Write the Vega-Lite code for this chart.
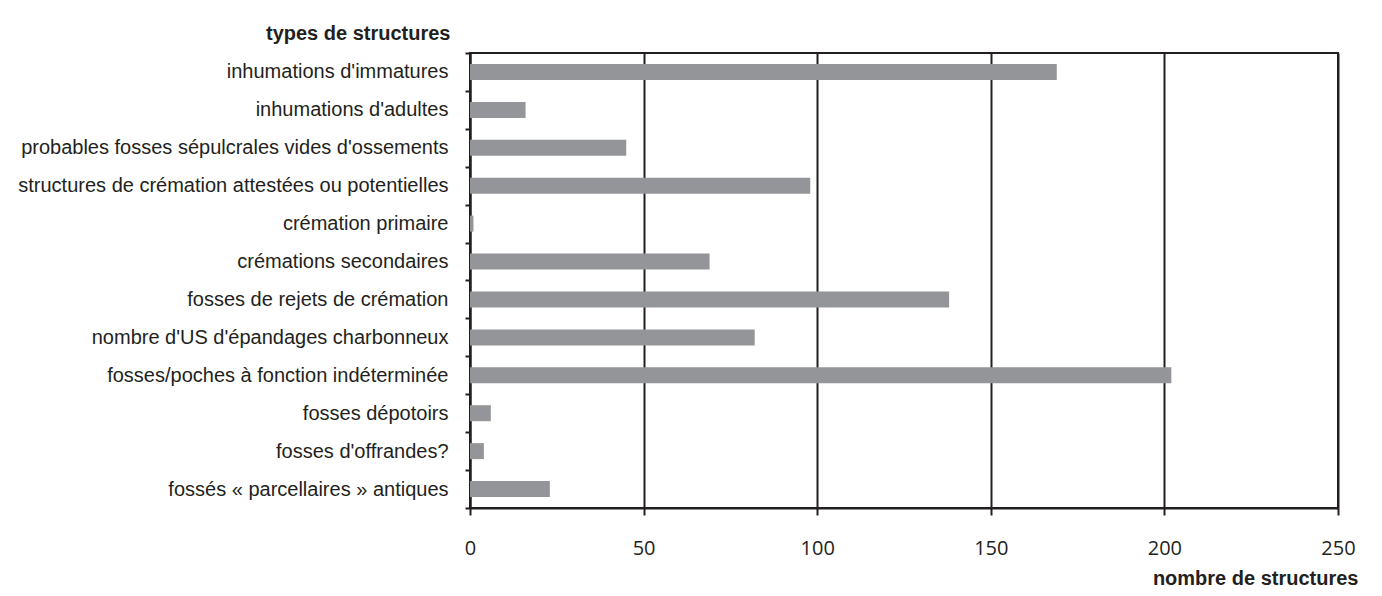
{
  "$schema": "https://vega.github.io/schema/vega-lite/v6.json",
  "autosize": {"type": "none"},
  "padding": {"left": 470, "top": 53, "right": 44, "bottom": 88},
  "width": 868,
  "height": 455,
  "background": "white",
  "data": {
    "values": [
      {"type": "inhumations d'immatures", "n": 169},
      {"type": "inhumations d'adultes", "n": 16},
      {"type": "probables fosses sépulcrales vides d'ossements", "n": 45},
      {"type": "structures de crémation attestées ou potentielles", "n": 98},
      {"type": "crémation primaire", "n": 1},
      {"type": "crémations secondaires", "n": 69},
      {"type": "fosses de rejets de crémation", "n": 138},
      {"type": "nombre d'US d'épandages charbonneux", "n": 82},
      {"type": "fosses/poches à fonction indéterminée", "n": 202},
      {"type": "fosses dépotoirs", "n": 6},
      {"type": "fosses d'offrandes?", "n": 4},
      {"type": "fossés « parcellaires » antiques", "n": 23}
    ]
  },
  "mark": {"type": "bar", "color": "#939598", "size": 16},
  "encoding": {
    "y": {
      "field": "type",
      "type": "nominal",
      "sort": null,
      "scale": {"paddingInner": 0, "paddingOuter": 0},
      "axis": {
        "title": "types de structures",
        "titleAngle": 0,
        "titleAlign": "right",
        "titleBaseline": "middle",
        "titleX": -20,
        "titleY": -20,
        "titleFont": "Liberation Sans",
        "titleFontSize": 20,
        "titleFontWeight": "bold",
        "titleColor": "#231f20",
        "labelFont": "Liberation Sans",
        "labelFontSize": 20,
        "labelColor": "#231f20",
        "labelPadding": 17,
        "labelLimit": 500,
        "tickBand": "extent",
        "tickSize": 5,
        "tickWidth": 2,
        "tickColor": "#231f20",
        "domainColor": "#231f20",
        "domainWidth": 2,
        "grid": false
      }
    },
    "x": {
      "field": "n",
      "type": "quantitative",
      "scale": {"domain": [0, 250], "nice": false},
      "axis": {
        "title": "nombre de structures",
        "values": [0, 50, 100, 150, 200, 250],
        "titleAnchor": "end",
        "titleAlign": "right",
        "titleBaseline": "middle",
        "titleX": 888,
        "titleY": 70,
        "titleFont": "Liberation Sans",
        "titleFontSize": 20,
        "titleFontWeight": "bold",
        "titleColor": "#231f20",
        "labelFont": "Open Sans",
        "labelFontSize": 20,
        "labelColor": "#231f20",
        "labelPadding": 23,
        "labelFlush": false,
        "tickSize": 7,
        "tickWidth": 2,
        "tickColor": "#231f20",
        "domainColor": "#231f20",
        "domainWidth": 2,
        "grid": true,
        "gridColor": "#231f20",
        "gridWidth": 2,
        "gridOpacity": 1
      }
    }
  },
  "config": {
    "view": {"stroke": "#231f20", "strokeWidth": 2}
  }
}
